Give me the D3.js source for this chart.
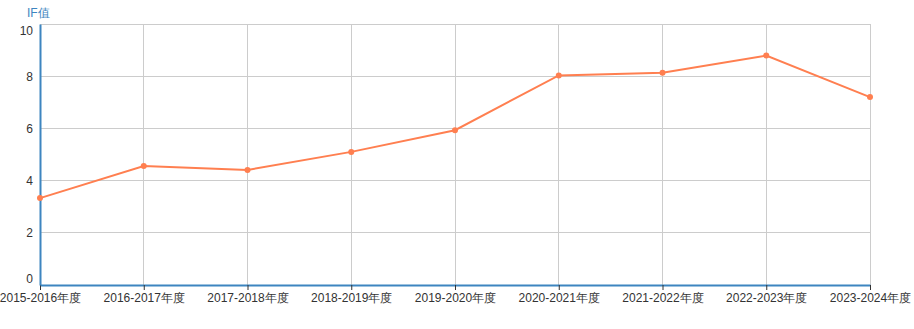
<!DOCTYPE html>
<html><head><meta charset="utf-8">
<script src="https://cdn.jsdelivr.net/npm/d3@7/dist/d3.min.js"></script>
<style>
body{margin:0;background:#fff;}
text{font-family:"Liberation Sans",Arial,sans-serif;}
</style></head>
<body><svg id="c" width="914" height="329"></svg>
<script>
const categories = ["2015-2016年度","2016-2017年度","2017-2018年度","2018-2019年度","2019-2020年度","2020-2021年度","2021-2022年度","2022-2023年度","2023-2024年度"];
const ifValues = [3.33, 4.56, 4.41, 5.10, 5.93, 8.03, 8.13, 8.79, 7.20];
const yTicks = [0, 2, 4, 6, 8, 10];
const yTitle = "IF值";

const svg = d3.select("#c");
const m = {l:40, r:44, t:24, b:44};
const W = 914, H = 329;
const x = d3.scalePoint().domain(categories).range([m.l, W - m.r]);
const y = d3.scaleLinear().domain([0, 10]).range([H - m.b, m.t]);

// grid
svg.append("g").selectAll("line").data(yTicks).join("line")
  .attr("x1", m.l).attr("x2", W - m.r)
  .attr("y1", d => y(d)).attr("y2", d => y(d))
  .attr("stroke", "#ccc").attr("stroke-width", 1).attr("shape-rendering","crispEdges");
svg.append("g").selectAll("line").data(categories).join("line")
  .attr("x1", d => x(d)).attr("x2", d => x(d))
  .attr("y1", m.t).attr("y2", H - m.b)
  .attr("stroke", "#ccc").attr("stroke-width", 1).attr("shape-rendering","crispEdges");

// x axis
const xa = svg.append("g").attr("transform", `translate(0,${H - m.b})`)
  .call(d3.axisBottom(x).tickSize(5).tickPadding(3).tickSizeOuter(0));
xa.select(".domain").attr("stroke", "#3d85c0").attr("stroke-width", 2);
xa.selectAll(".tick line").attr("stroke", "#333");
xa.selectAll(".tick text").attr("fill", "#333").attr("font-size", 12)
  .attr("font-family", '"Liberation Sans",Arial,sans-serif');

// y axis
const ya = svg.append("g").attr("transform", `translate(${m.l},0)`)
  .call(d3.axisLeft(y).tickValues(yTicks).tickSize(0).tickPadding(7).tickSizeOuter(0));
ya.select(".domain").attr("stroke", "#3d85c0").attr("stroke-width", 2);
ya.selectAll(".tick text").attr("fill", "#333").attr("font-size", 12)
  .attr("font-family", '"Liberation Sans",Arial,sans-serif')
  .attr("dy", d => d === 10 ? "0.85em" : d === 0 ? "-0.2em" : "0.32em");

// title
svg.append("text").attr("x", 27).attr("y", 17).attr("fill", "#3d85c0")
  .attr("font-size", 12).text(yTitle);

// line
const line = d3.line().x((d,i) => x(categories[i])).y(d => y(d));
svg.append("path").datum(ifValues).attr("d", line)
  .attr("fill", "none").attr("stroke", "#ff7f50").attr("stroke-width", 2);
svg.append("g").selectAll("circle").data(ifValues).join("circle")
  .attr("cx", (d,i) => x(categories[i])).attr("cy", d => y(d)).attr("r", 3)
  .attr("fill", "#ff7f50");
</script></body></html>
